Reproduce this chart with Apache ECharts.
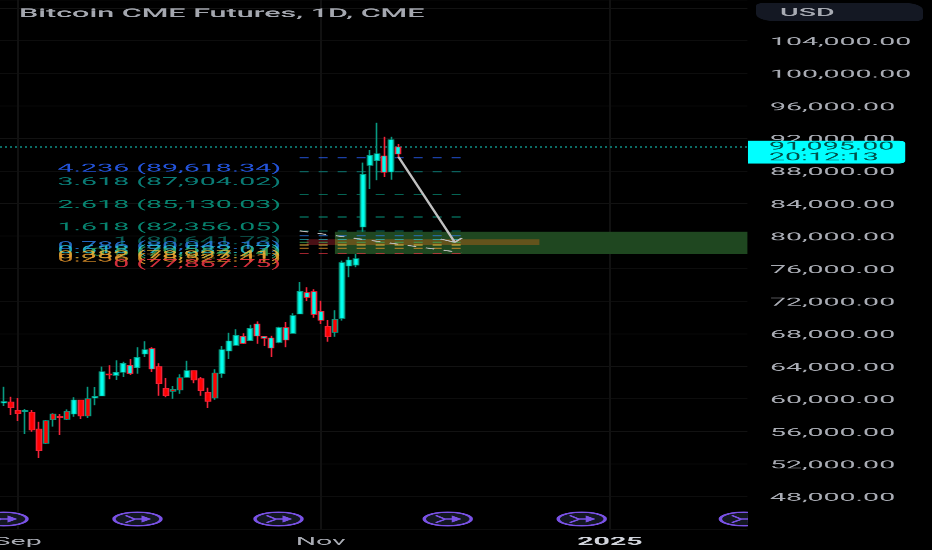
<!DOCTYPE html>
<html>
<head>
<meta charset="utf-8">
<style>
html,body{margin:0;padding:0;background:#000;width:932px;height:550px;overflow:hidden}
#chart{width:932px;height:1375px;transform:scaleY(0.4);transform-origin:0 0;filter:blur(0.3px)}
</style>
<script src="https://cdn.jsdelivr.net/npm/echarts@6/dist/echarts.min.js"></script>
</head>
<body>
<div id="chart"></div>
<script>
const titleText = 'Bitcoin CME Futures, 1D, CME';
const currencyText = 'USD';
const lastPriceText = '91,095.00';
const countdownText = '20:12:13';
const priceLineLevel = 90950;

const categories = [
'2024-08-29','2024-08-30','2024-09-03','2024-09-04','2024-09-05','2024-09-06',
'2024-09-09','2024-09-10','2024-09-11','2024-09-12','2024-09-13',
'2024-09-16','2024-09-17','2024-09-18','2024-09-19','2024-09-20',
'2024-09-23','2024-09-24','2024-09-25','2024-09-26','2024-09-27',
'2024-09-30','2024-10-01','2024-10-02','2024-10-03','2024-10-04',
'2024-10-07','2024-10-08','2024-10-09','2024-10-10','2024-10-11',
'2024-10-14','2024-10-15','2024-10-16','2024-10-17','2024-10-18',
'2024-10-21','2024-10-22','2024-10-23','2024-10-24','2024-10-25',
'2024-10-28','2024-10-29','2024-10-30','2024-10-31','2024-11-01',
'2024-11-04','2024-11-05','2024-11-06','2024-11-07','2024-11-08',
'2024-11-11','2024-11-12','2024-11-13','2024-11-14','2024-11-15',
'2024-11-18','2024-11-19','2024-11-20','2024-11-21','2024-11-22',
'2024-11-25','2024-11-26','2024-11-27','2024-11-29',
'2024-12-02','2024-12-03','2024-12-04','2024-12-05','2024-12-06',
'2024-12-09','2024-12-10','2024-12-11','2024-12-12','2024-12-13',
'2024-12-16','2024-12-17','2024-12-18','2024-12-19','2024-12-20',
'2024-12-23','2024-12-24','2024-12-26','2024-12-27','2024-12-30','2024-12-31',
'2025-01-02','2025-01-03','2025-01-06','2025-01-07','2025-01-08','2025-01-09','2025-01-10',
'2025-01-13','2025-01-14','2025-01-15','2025-01-16','2025-01-17',
'2025-01-20','2025-01-21','2025-01-22','2025-01-23','2025-01-24',
'2025-01-27','2025-01-28','2025-01-29'];

const xTickDates = ['2024-09-03','2024-11-01','2025-01-02'];
const xTickLabels = ['Sep','Nov','2025'];
const yTickValues = [48000,52000,56000,60000,64000,68000,72000,76000,80000,84000,88000,92000,96000,100000,104000];

const opens = [59490,59620,58590,58430,58350,56300,57320,58140,57850,58470,58140,59860,60020,60110,60350,63060,62890,63260,63100,63830,65510,63670,63960,61290,61170,62600,62650,63460,62480,60800,63180,63100,65880,66580,66820,67150,67720,67440,66250,66940,67230,68050,70430,72470,70380,69650,68910,69770,69890,76320,76440,81110,88690,89260,87830,87870,90080];
const closes = [59660,58920,58180,58590,56180,53640,54540,57440,57690,57490,59860,57900,57900,60310,63340,62930,63260,64370,64120,65100,66040,66170,61870,60390,60930,61090,63460,62320,61010,59700,60110,66040,67110,67800,67680,68660,69200,67680,67480,68750,68750,70220,73210,73050,73170,70750,67640,68170,76730,77060,77220,87580,89920,90120,89840,91840,90940];
const lows = [59120,58020,57280,55680,55970,52740,54460,56590,55560,57400,57810,57530,57650,59210,60350,62400,62320,62690,62930,63100,65140,63300,60390,60190,60020,60640,62600,61910,60390,58880,59900,62600,64900,66570,66740,67150,66780,66490,65140,66820,66330,68010,70430,72020,69970,69200,67030,67640,69610,74930,76160,80540,85780,86850,87260,86930,89670];
const highs = [61500,60270,60110,58760,58630,57200,57400,58220,58140,58710,60190,59860,61500,61460,63960,64120,64730,64570,64900,66330,67070,66330,64370,62560,61580,63010,64690,63460,62690,61380,63630,66490,68130,68540,68050,69110,69520,67720,67760,68870,69440,70510,74360,73700,73460,72060,69690,70880,76980,77470,77800,89020,90570,93930,92210,92210,91310];
// 1 = the candle's secondary signal agrees (teal edge), 0 = it does not (red edge)
const edgeSignal = [1,0,0,1,0,0,1,1,0,1,1,0,1,1,1,0,1,1,0,1,1,0,0,0,1,1,1,0,0,0,1,1,1,1,0,1,0,0,0,1,0,1,1,0,0,0,0,1,1,1,1,1,1,1,0,1,0];

const fibLevels = ['4.236','3.618','2.618','1.618','1','0.786','0.618','0.5','0.382','0.236','0'];
const fibPrices = [89618.34,87904.02,85130.03,82356.05,80641.73,80048.19,79582.07,79254.74,78927.41,78522.41,77867.75];
const fibStartBar = 42;
const fibEndBar = 65;

const zoneBars = [47];
const zonePrices = [80535,77800];
const midBandRedBars = [43,47];
const midBandOliveBars = [47,76];
const midBandPrices = [79600,78900];

const projectionBars = [56,64];
const projectionPrices = [89750,79233];
const arrowBars = [62,64,65];
const arrowPrices = [79640,79233,79760];
const trendBars = [42,65];
const trendPrices = [80640,77955];

const eventBars = [0,19,39,63,82,105];
const eventLevel = 45240;

// ---- styling ----
const FONT = 'Roboto';
const CYAN = '#00ffee', RED = '#ff0000', TEAL = '#089981', REDEDGE = '#f2243a';
const fibColors = ['#2962ff','#0c8f88','#089981','#089981','#0b6b60','#2a7ae0','#26c6da','#3aa757','#f0c040','#e8962c','#f23645'];
const labelGrey = '#a8abb3';
const fmtPrice = v => v.toLocaleString('en-US',{minimumFractionDigits:2,maximumFractionDigits:2});

const candleData = opens.map((o,i)=>{
  const fill = closes[i] > o ? CYAN : RED;
  const edge = edgeSignal[i] ? TEAL : REDEDGE;
  return {value:[o,closes[i],lows[i],highs[i]],
          itemStyle:{color:fill,color0:fill,borderColor:edge,borderColor0:edge}};
});

const showTick = (idx,val)=>xTickDates.indexOf(val)>=0;
const pair = (xs,ys)=>xs.map((x,i)=>[x,ys[i]]);

const chart = echarts.init(document.getElementById('chart'),null,{renderer:'canvas'});
chart.setOption({
  animation:false,
  backgroundColor:'#000',
  textStyle:{fontFamily:FONT},
  title:{text:titleText,left:14,top:15,textStyle:{fontFamily:FONT,fontSize:30.5,fontWeight:500,color:'#a4a7af'}},
  grid:{left:0,right:184.6,top:0,bottom:52.25,outerBoundsMode:'none',containLabel:false},
  xAxis:{type:'category',data:categories,boundaryGap:true,
    axisLine:{show:false},axisTick:{show:false},
    splitLine:{show:true,alignWithLabel:true,interval:showTick,lineStyle:{color:'#111111',width:2}},
    axisLabel:{interval:showTick,margin:18,fontFamily:FONT,fontSize:28.5,color:labelGrey,
      formatter:v=>{const k=xTickDates.indexOf(v);const t=k>=0?xTickLabels[k]:'';return /^\d+$/.test(t)?'{y|'+t+'}':t;},
      rich:{y:{fontFamily:FONT,fontSize:28.5,fontWeight:700,color:'#d1d4dc'}}}},
  yAxis:{type:'value',position:'right',min:44000,max:109000,interval:4000,scale:false,
    axisLine:{show:false},axisTick:{show:false},
    splitLine:{show:true,lineStyle:{color:'#121212',width:2}},
    axisLabel:{margin:22.5,fontFamily:FONT,fontSize:28.5,color:labelGrey,verticalAlign:'top',lineHeight:8,
      formatter:v=>yTickValues.indexOf(v)>=0?fmtPrice(v):''}},
  graphic:[
    {type:'rect',z:50,shape:{x:756,y:7.5,width:167,height:45,r:[7,18]},style:{fill:'#141823'}},
    {type:'text',z:51,x:780,y:33,style:{text:currencyText,fontFamily:FONT,fontSize:28.5,fontWeight:500,fill:'#a8abb3',verticalAlign:'middle'}}
  ],
  series:[
    {type:'candlestick',name:'Bitcoin CME Futures',data:candleData,barWidth:5.5,silent:true,z:3,
     itemStyle:{borderWidth:1.6},
     markArea:{silent:true,z:1,data:[
       [{xAxis:zoneBars[0],yAxis:zonePrices[0],itemStyle:{color:'#1f4720'}},{xAxis:Infinity,yAxis:zonePrices[1]}],
       [{xAxis:midBandRedBars[0],yAxis:midBandPrices[0],itemStyle:{color:'#4a1015'}},{xAxis:midBandRedBars[1],yAxis:midBandPrices[1]}],
       [{xAxis:midBandOliveBars[0],yAxis:midBandPrices[0],itemStyle:{color:'#63531c'}},{xAxis:midBandOliveBars[1],yAxis:midBandPrices[1]}]
     ]},
     markLine:{silent:true,symbol:'none',label:{show:false},z:2,precision:2,data:
       fibPrices.map((p,i)=>[
         {coord:[fibStartBar,p],lineStyle:{color:fibColors[i],type:[9,10],width:3,opacity:.65}},
         {coord:[fibEndBar,p]}
       ]).concat([[
         {yAxis:priceLineLevel,x:0,lineStyle:{color:'#0f9087',type:[2,3],width:3,opacity:1}},
         {yAxis:priceLineLevel,x:747.4}
       ]])}
    },
    {type:'line',name:'Fib trend',data:pair(trendBars,trendPrices),symbol:'none',silent:true,z:4,
     lineStyle:{color:'#bcbcbc',width:2.5,type:[9,10]}},
    {type:'line',name:'Projection',data:pair(projectionBars,projectionPrices),symbol:'none',silent:true,z:4,
     lineStyle:{color:'#c0c0c0',width:2.8}},
    {type:'line',name:'Projection arrow',data:pair(arrowBars,arrowPrices),symbol:'none',silent:true,z:4,
     lineStyle:{color:'#c0c0c0',width:2.5}},
    {type:'scatter',name:'Fib labels',symbolSize:1,silent:true,z:6,
     itemStyle:{color:'transparent',opacity:1},
     data:fibPrices.map((p,i)=>({value:[fibStartBar,p],
       label:{color:fibColors[i],formatter:fibLevels[i]+' ('+fmtPrice(p)+')'}})),
     label:{show:true,position:'left',distance:5,offset:[-13,27],fontFamily:FONT,fontSize:28.5,opacity:.85}},
    {type:'custom',name:'Events',clip:true,silent:true,z:5,
     data:eventBars.map(b=>[b,eventLevel]),
     renderItem:(params,api)=>{
       const c=api.coord([api.value(0),api.value(1)]);
       const P='#7a52e6';
       return {type:'group',children:[
         {type:'ellipse',shape:{cx:c[0],cy:c[1],rx:23.5,ry:17},style:{fill:'#131722',stroke:P,lineWidth:3.5}},
         {type:'polyline',shape:{points:[[c[0]-12,c[1]-9],[c[0]-3,c[1]],[c[0]+6,c[1]]]},style:{fill:null,stroke:P,lineWidth:3}},
         {type:'polyline',shape:{points:[[c[0]-12,c[1]+9],[c[0]-3,c[1]+1]]},style:{fill:null,stroke:P,lineWidth:3}},
         {type:'polygon',shape:{points:[[c[0]+4,c[1]-9],[c[0]+14,c[1]],[c[0]+4,c[1]+9]]},style:{fill:P}}
       ]};
     }},
    {type:'scatter',name:'Last price',symbolSize:1,silent:true,z:20,clip:false,
     itemStyle:{color:'transparent',opacity:1},
     data:[[categories.length-1,priceLineLevel]],
     label:{show:true,position:'right',distance:3.6,offset:[0,13],opacity:1,
       formatter:lastPriceText+'\n'+countdownText,
       fontFamily:FONT,fontSize:28.5,lineHeight:27.5,color:'#00524c',
       backgroundColor:'#00ffff',borderRadius:[0,6,6,0],padding:[0,11,2,21]}}
  ]
});
</script>
</body>
</html>
